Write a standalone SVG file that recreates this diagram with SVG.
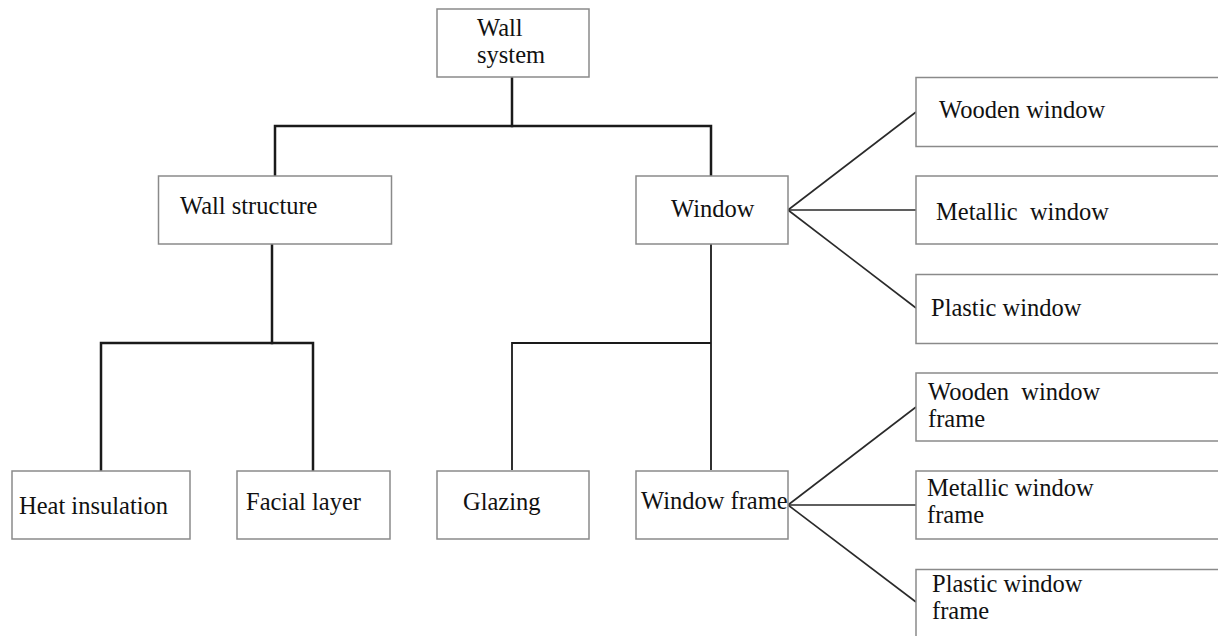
<svg xmlns="http://www.w3.org/2000/svg" width="1218" height="636" viewBox="0 0 1218 636">
<style>
rect.box{fill:#fff;stroke:#8a8a8a;stroke-width:1.5}
text{font-family:"Liberation Serif","Times New Roman",serif;font-size:24.5px;fill:#111;white-space:pre}
.tree{fill:none;stroke:#1a1a1a;stroke-width:2.5;stroke-linecap:square}
.thin{fill:none;stroke:#1a1a1a;stroke-width:1.8}
.fan{fill:none;stroke:#2a2a2a;stroke-width:1.6}
</style>
<rect width="1218" height="636" fill="#fff"/>
<g id="connectors">
<polyline class="tree" points="512,77 512,126"/>
<polyline class="tree" points="275,175 275,126 711,126 711,175"/>
<polyline class="tree" points="272,244 272,343"/>
<polyline class="tree" points="101,470 101,343 313,343 313,470"/>
<polyline class="thin" points="711,244 711,470"/>
<polyline class="thin" points="512,470 512,343 711,343"/>
<line class="fan" x1="788" y1="210" x2="916" y2="112"/>
<line class="fan" x1="788" y1="210" x2="916" y2="210"/>
<line class="fan" x1="788" y1="210" x2="916" y2="308"/>
<line class="fan" x1="788" y1="505" x2="916" y2="407"/>
<line class="fan" x1="788" y1="505" x2="916" y2="505"/>
<line class="fan" x1="788" y1="505" x2="916" y2="602"/>
</g>
<g id="wall-system"><rect class="box" x="437" y="9" width="152" height="68"/><text x="477" y="36">Wall</text><text x="477" y="63">system</text></g>
<g id="wall-structure"><rect class="box" x="158.5" y="176" width="233" height="68"/><text x="180" y="214">Wall structure</text></g>
<g id="window"><rect class="box" x="636" y="176" width="152" height="68"/><text x="671" y="217">Window</text></g>
<g id="heat-insulation"><rect class="box" x="12" y="471" width="178" height="68"/><text x="19" y="514">Heat insulation</text></g>
<g id="facial-layer"><rect class="box" x="237" y="471" width="153" height="68"/><text x="246" y="510">Facial layer</text></g>
<g id="glazing"><rect class="box" x="437" y="471" width="152" height="68"/><text x="463" y="510">Glazing</text></g>
<g id="window-frame"><rect class="box" x="636" y="471" width="152" height="68"/><text x="641" y="509">Window frame</text></g>
<g id="wooden-window"><rect class="box" x="916" y="77.5" width="320" height="69"/><text x="939" y="118">Wooden window</text></g>
<g id="metallic-window"><rect class="box" x="916" y="176" width="320" height="68"/><text x="936" y="220" xml:space="preserve">Metallic  window</text></g>
<g id="plastic-window"><rect class="box" x="916" y="274.5" width="320" height="69"/><text x="931" y="316">Plastic window</text></g>
<g id="wooden-window-frame"><rect class="box" x="916" y="373" width="320" height="68"/><text x="928" y="400" xml:space="preserve">Wooden  window</text><text x="928" y="427">frame</text></g>
<g id="metallic-window-frame"><rect class="box" x="916" y="471" width="320" height="68"/><text x="927" y="496">Metallic window</text><text x="927" y="523">frame</text></g>
<g id="plastic-window-frame"><rect class="box" x="916" y="569.5" width="320" height="80"/><text x="932" y="592">Plastic window</text><text x="932" y="619">frame</text></g>
</svg>
